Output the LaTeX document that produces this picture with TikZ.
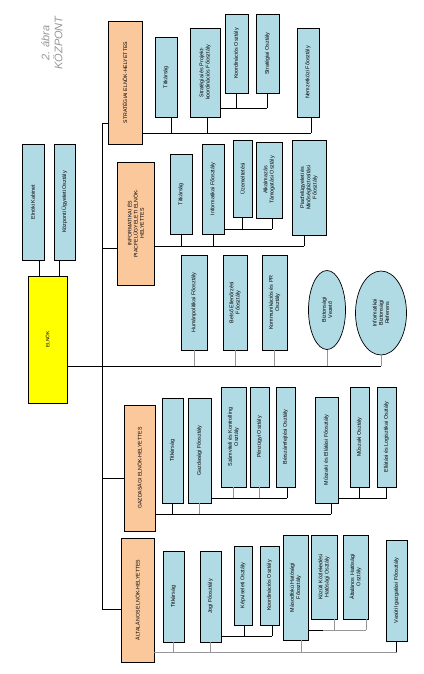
\documentclass[tikz,border=0pt]{standalone}
\usepackage{fontspec}
\setmainfont{Liberation Sans}
\usetikzlibrary{shapes.geometric}
\definecolor{bluebox}{RGB}{176,218,228}
\definecolor{orangebox}{RGB}{251,200,156}
\definecolor{yellowbox}{RGB}{255,255,0}
\definecolor{titlegray}{RGB}{150,150,150}
\definecolor{linegray}{RGB}{150,150,150}
\newcommand\bx[7]{\node[#6, minimum width={(#4-#2)*1pt}, minimum height={(#5-#3)*1pt}] (#1) at ({(#2+#4)/2},{(#3+#5)/2}) {\rotatebox{90}{\parbox{\dimexpr #5pt-#3pt-4pt\relax}{\centering #7}}};}
\begin{document}
\begin{tikzpicture}[x=1pt,y=-1pt,
  base/.style={draw=black, line width=0.7pt, inner sep=0pt, outer sep=0pt, font=\fontsize{5.4}{6.2}\selectfont},
  unit/.style={base, fill=bluebox},
  deputy/.style={base, fill=orangebox, font=\fontsize{5.2}{6.2}\selectfont},
  chief/.style={base, fill=yellowbox, font=\fontsize{4.8}{5.5}\selectfont},
  oval/.style={ellipse, draw=black, line width=0.7pt, fill=bluebox, inner sep=0pt, font=\fontsize{5.4}{6.2}\selectfont},
  conn/.style={line width=0.7pt, black},
  gconn/.style={line width=0.9pt, linegray}]
\useasboundingbox (0,0) rectangle (423,674);

% title
\node[text=titlegray, rotate=90, align=center, font=\fontsize{11}{13}\selectfont\itshape] (title) at (52,43) {2. ábra\\KÖZPONT};

% chief
\bx{ek}{22}{144}{44}{260}{unit}{Elnöki Kabinet}
\bx{ku}{54}{144}{75}{260}{unit}{Központi Ügyeleti Osztály}
\bx{el}{28}{276}{67}{403}{chief}{ELNÖK}

% strategic
\bx{sv}{108}{21}{142}{144}{deputy}{STRATÉGIAI ELNÖK-HELYETTES}
\bx{st}{155}{37}{177}{117}{unit}{Titkárság}
\bx{sp}{190}{28}{220}{117}{unit}{Stratégiai és Projekt-\\koordinációs Főosztály}
\bx{sk}{225}{14}{248}{93}{unit}{Koordinációs Osztály}
\bx{ss}{256}{14}{279}{93}{unit}{Stratégiai Osztály}
\bx{sn}{297}{28}{319}{117}{unit}{Nemzetközi Főosztály}

% informatics
\bx{iv}{117}{162}{154}{285}{deputy}{INFORMATIKAI ÉS\\PIACFELÜGYELETI ELNÖK-\\HELYETTES}
\bx{it}{170}{154}{192}{234}{unit}{Titkárság}
\bx{iff}{202}{144}{224}{234}{unit}{Informatikai Főosztály}
\bx{iu}{233}{140}{252}{217}{unit}{Üzemeltetési}
\bx{ia}{256}{142}{282}{218}{unit}{Alkalmazás\\Támogatási Osztály}
\bx{ip}{292}{140}{326}{235}{unit}{Piacfelügyeleti és\\Minőségbiztosítási\\Főosztály}

% direct units
\bx{dh}{181}{255}{207}{350}{unit}{Humánpolitikai Főosztály}
\bx{db}{223}{255}{247}{350}{unit}{Belső Ellenőrzési\\Főosztály}
\bx{dk}{262}{255}{287}{350}{unit}{Kommunikációs és PR\\Osztály}
\node[oval, minimum width=37pt, minimum height=79pt] (bv) at (327,310) {\rotatebox{90}{\parbox{40pt}{\centering Biztonsági\\Vezető}}};
\node[oval, minimum width=51pt, minimum height=84pt] (br) at (381,313) {\rotatebox{90}{\parbox{40pt}{\centering Informatikai\\Biztonsági\\Referens}}};

% economic
\bx{gv}{124}{405}{155}{531}{deputy}{GAZDASÁGI ELNÖK-HELYETTES}
\bx{gt}{162}{398}{183}{503}{unit}{Titkárság}
\bx{gf}{188}{398}{211}{503}{unit}{Gazdasági Főosztály}
\bx{gs}{221}{387}{246}{487}{unit}{Számviteli és Kontrolling\\Osztály}
\bx{gp}{250}{387}{269}{487}{unit}{Pénzügyi Osztály}
\bx{gb}{276}{387}{295}{487}{unit}{Bérszámfejtési Osztály}
\bx{gm}{315}{397}{338}{503}{unit}{Műszaki és Ellátási Főosztály}
\bx{gmo}{350}{387}{369}{487}{unit}{Műszaki Osztály}
\bx{ge}{377}{387}{396}{487}{unit}{Ellátási és Logisztikai Osztály}

% general
\bx{av}{121}{538}{154}{662}{deputy}{ÁLTALÁNOS ELNÖK-HELYETTES}
\bx{at}{163}{551}{184}{642}{unit}{Titkárság}
\bx{aj}{200}{551}{221}{642}{unit}{Jogi Főosztály}
\bx{ak}{234}{546}{252}{625}{unit}{Képviseleti Osztály}
\bx{ako}{260}{546}{279}{625}{unit}{Koordinációs Osztály}
\bx{am}{283}{535}{308}{640}{unit}{Másodfokú Hatósági\\Főosztály}
\bx{akk}{311}{535}{337}{619}{unit}{Közúti Közlekedési\\Hatósági Osztály}
\bx{aa}{343}{535}{368}{619}{unit}{Általános Hatósági\\Osztály}
\bx{avi}{386}{540}{407}{641}{unit}{Vasúti Igazgatási Főosztály}

% ---- connectors ----
% chief
\draw[conn] ([xshift=6pt]ek.south) -- ([xshift=6pt]ek.south |- el.north);
\draw[conn] ([xshift=-5pt]ku.south) -- ([xshift=-5pt]ku.south |- el.north);

% spine
\coordinate (spT) at (102,123);
\coordinate (spB) at (102,609);
\draw[conn] (sv.west |- spT) -- (spT) -- (spB) -- (av.west |- spB);
\draw[conn] (iv.west |- 0,248) -- (spT |- 0,248);
\draw[conn] (gv.west |- 0,478) -- (spT |- 0,478);

% main bus
\coordinate (mb) at (0,366);
\draw[conn] (el.east |- mb) -- (br.south |- mb);
\draw[gconn] (dh.south) -- (dh.south |- mb);
\draw[gconn] (db.south) -- (db.south |- mb);
\draw[gconn] (dk.south) -- (dk.south |- mb);
\draw[gconn] (bv.south) -- (bv.south |- mb);
\draw[gconn] (br.south) -- (br.south |- mb);

% strategic
\coordinate (sb) at (0,133);
\coordinate (ssb) at (0,108);
\draw[conn] (sv.east |- sb) -- ([xshift=3pt]sn.south |- sb);
\draw[conn] ([xshift=5pt]st.south) -- ([xshift=5pt]st.south |- sb);
\draw[conn] ([xshift=2pt]sp.south) -- ([xshift=2pt]sp.south |- sb);
\draw[conn] ([xshift=3pt]sn.south) -- ([xshift=3pt]sn.south |- sb);
\draw[conn] (sp.east |- ssb) -- ([xshift=-0.5pt]ss.south |- ssb);
\draw[conn] (sk.south) -- (sk.south |- ssb);
\draw[conn] ([xshift=-0.5pt]ss.south) -- ([xshift=-0.5pt]ss.south |- ssb);

% informatics
\coordinate (ib) at (0,246);
\coordinate (isb) at (0,229);
\draw[conn] (iv.east |- ib) -- ([xshift=-5pt]ip.south |- ib);
\draw[conn] (it.south) -- (it.south |- ib);
\draw[conn] (iff.south) -- (iff.south |- ib);
\draw[conn] ([xshift=-5pt]ip.south) -- ([xshift=-5pt]ip.south |- ib);
\draw[conn] (iff.east |- isb) -- ([xshift=3pt]ia.south |- isb);
\draw[conn] (iu.south) -- (iu.south |- isb);
\draw[conn] ([xshift=3pt]ia.south) -- ([xshift=3pt]ia.south |- isb);

% economic
\coordinate (gbus) at (0,514);
\coordinate (gsb) at (0,498);
\draw[conn] (gv.east |- gbus) -- ([xshift=4.5pt]gm.south |- gbus);
\draw[conn] (gt.south) -- (gt.south |- gbus);
\draw[gconn] (gf.south) -- (gf.south |- gbus);
\draw[conn] ([xshift=4.5pt]gm.south) -- ([xshift=4.5pt]gm.south |- gbus);
\draw[conn] (gf.east |- gsb) -- ([xshift=1.5pt]gb.south |- gsb);
\draw[gconn] (gs.south) -- (gs.south |- gsb);
\draw[gconn] (gp.south) -- (gp.south |- gsb);
\draw[conn] ([xshift=1.5pt]gb.south) -- ([xshift=1.5pt]gb.south |- gsb);
\draw[conn] (gm.east |- gsb) -- (ge.south |- gsb);
\draw[conn] (gmo.south) -- (gmo.south |- gsb);
\draw[conn] (ge.south) -- (ge.south |- gsb);

% general
\coordinate (abus) at (0,652);
\coordinate (asb) at (0,636);
\coordinate (amb) at (0,630);
\draw[gconn] (av.east |- abus) -- (avi.south |- abus);
\draw[gconn] (at.south) -- (at.south |- abus);
\draw[gconn] (aj.south) -- (aj.south |- abus);
\draw[gconn] ([xshift=5.5pt]am.south) -- ([xshift=5.5pt]am.south |- abus);
\draw[conn] (avi.south) -- (avi.south |- abus);
\draw[conn] (aj.east |- asb) -- ([xshift=2.5pt]ako.south |- asb);
\draw[conn] ([xshift=1.5pt]ak.south) -- ([xshift=1.5pt]ak.south |- asb);
\draw[conn] ([xshift=2.5pt]ako.south) -- ([xshift=2.5pt]ako.south |- asb);
\draw[conn] (am.east |- amb) -- ([xshift=-1pt]akk.south |- amb);
\draw[gconn] ([xshift=-1pt]akk.south |- amb) -- ([xshift=10.5pt]aa.south |- amb);
\draw[gconn] ([xshift=10.5pt]akk.south) -- ([xshift=10.5pt]akk.south |- amb);
\draw[gconn] ([xshift=10.5pt]aa.south) -- ([xshift=10.5pt]aa.south |- amb);
\end{tikzpicture}
\end{document}
